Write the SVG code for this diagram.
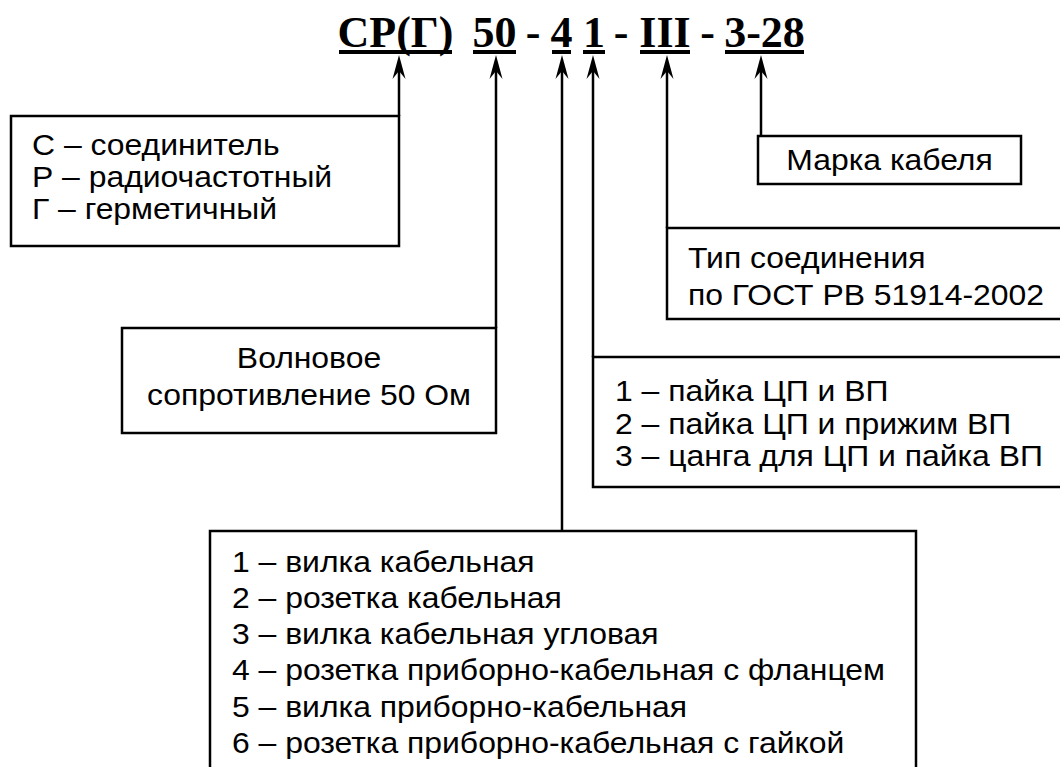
<svg xmlns="http://www.w3.org/2000/svg" width="1060" height="767" viewBox="0 0 1060 767">
  <style>
    .title { font-family: "Liberation Serif", "Times New Roman", serif; font-weight: bold; font-size: 44px; fill: #000; text-anchor: middle; }
    .lbl { font-family: "Liberation Sans", Arial, sans-serif; font-size: 29px; fill: #000; }
    .mid { text-anchor: middle; }
    .box { fill: #fff; stroke: #000; stroke-width: 2.5; }
    .wire { fill: none; stroke: #000; stroke-width: 2.5; }
    .ul { fill: #000; }
  </style>
  <rect width="1060" height="767" fill="#fff"/>

  <!-- designation string with separately underlined fields -->
  <g id="designation">
    <text class="title" x="395.5" y="47">СР(Г)</text>
    <text class="title" x="494.5" y="47">50</text>
    <text class="title" x="533" y="47">-</text>
    <text class="title" x="561.5" y="47">4</text>
    <text class="title" x="594" y="47">1</text>
    <text class="title" x="621" y="47">-</text>
    <text class="title" x="665" y="47">III</text>
    <text class="title" x="707.5" y="47">-</text>
    <text class="title" x="764.5" y="47">3-28</text>
    <rect class="ul" x="339" y="50" width="113" height="4"/>
    <rect class="ul" x="473" y="50" width="43" height="4"/>
    <rect class="ul" x="552" y="50" width="19" height="4"/>
    <rect class="ul" x="583" y="50" width="22" height="4"/>
    <rect class="ul" x="640" y="50" width="50" height="4"/>
    <rect class="ul" x="725" y="50" width="79" height="4"/>
  </g>

  <!-- leader lines with arrowheads pointing at the fields -->
  <g id="connectors">
    <path class="wire" d="M399,116 V70"/>
    <path class="wire" d="M496,328 V70"/>
    <path class="wire" d="M562,531 V70"/>
    <path class="wire" d="M593,357 V70"/>
    <path class="wire" d="M667,228 V70"/>
    <path class="wire" d="M761,136 V70"/>
    <g fill="#000">
      <path d="M399,55 L392.5,79 L399,71 L405.5,79 Z"/>
      <path d="M496,55 L489.5,79 L496,71 L502.5,79 Z"/>
      <path d="M562,55 L555.5,79 L562,71 L568.5,79 Z"/>
      <path d="M593,55 L586.5,79 L593,71 L599.5,79 Z"/>
      <path d="M667,55 L660.5,79 L667,71 L673.5,79 Z"/>
      <path d="M761,55 L754.5,79 L761,71 L767.5,79 Z"/>
    </g>
  </g>

  <g id="node-type">
    <rect class="box" x="11" y="116" width="388" height="130"/>
    <text class="lbl" transform="translate(32 155) scale(1.1 1)">С – соединитель</text>
    <text class="lbl" transform="translate(32 187) scale(1.1 1)">Р – радиочастотный</text>
    <text class="lbl" transform="translate(32 219) scale(1.1 1)">Г – герметичный</text>
  </g>

  <g id="node-impedance">
    <rect class="box" x="122" y="328" width="374" height="105"/>
    <text class="lbl mid" transform="translate(309 368) scale(1.1 1)">Волновое</text>
    <text class="lbl mid" transform="translate(309 405) scale(1.1 1)">сопротивление 50 Ом</text>
  </g>

  <g id="node-cable">
    <rect class="box" x="758" y="136" width="263" height="48"/>
    <text class="lbl mid" transform="translate(889.5 170) scale(1.1 1)">Марка кабеля</text>
  </g>

  <g id="node-joint">
    <rect class="box" x="667" y="228" width="410" height="91"/>
    <text class="lbl" transform="translate(688 268) scale(1.1 1)">Тип соединения</text>
    <text class="lbl" transform="translate(688 305) scale(1.1 1)">по ГОСТ РВ 51914-2002</text>
  </g>

  <g id="node-termination">
    <rect class="box" x="593" y="357" width="480" height="130"/>
    <text class="lbl" transform="translate(615 401) scale(1.1 1)">1 – пайка ЦП и ВП</text>
    <text class="lbl" transform="translate(615 434) scale(1.1 1)">2 – пайка ЦП и прижим ВП</text>
    <text class="lbl" transform="translate(615 466) scale(1.1 1)">3 – цанга для ЦП и пайка ВП</text>
  </g>

  <g id="node-kind">
    <rect class="box" x="210" y="531" width="706" height="260"/>
    <text class="lbl" transform="translate(232 572) scale(1.1 1)">1 – вилка кабельная</text>
    <text class="lbl" transform="translate(232 608) scale(1.1 1)">2 – розетка кабельная</text>
    <text class="lbl" transform="translate(232 644) scale(1.1 1)">3 – вилка кабельная угловая</text>
    <text class="lbl" transform="translate(232 680) scale(1.1 1)">4 – розетка приборно-кабельная с фланцем</text>
    <text class="lbl" transform="translate(232 717) scale(1.1 1)">5 – вилка приборно-кабельная</text>
    <text class="lbl" transform="translate(232 753) scale(1.1 1)">6 – розетка приборно-кабельная с гайкой</text>
  </g>
</svg>
